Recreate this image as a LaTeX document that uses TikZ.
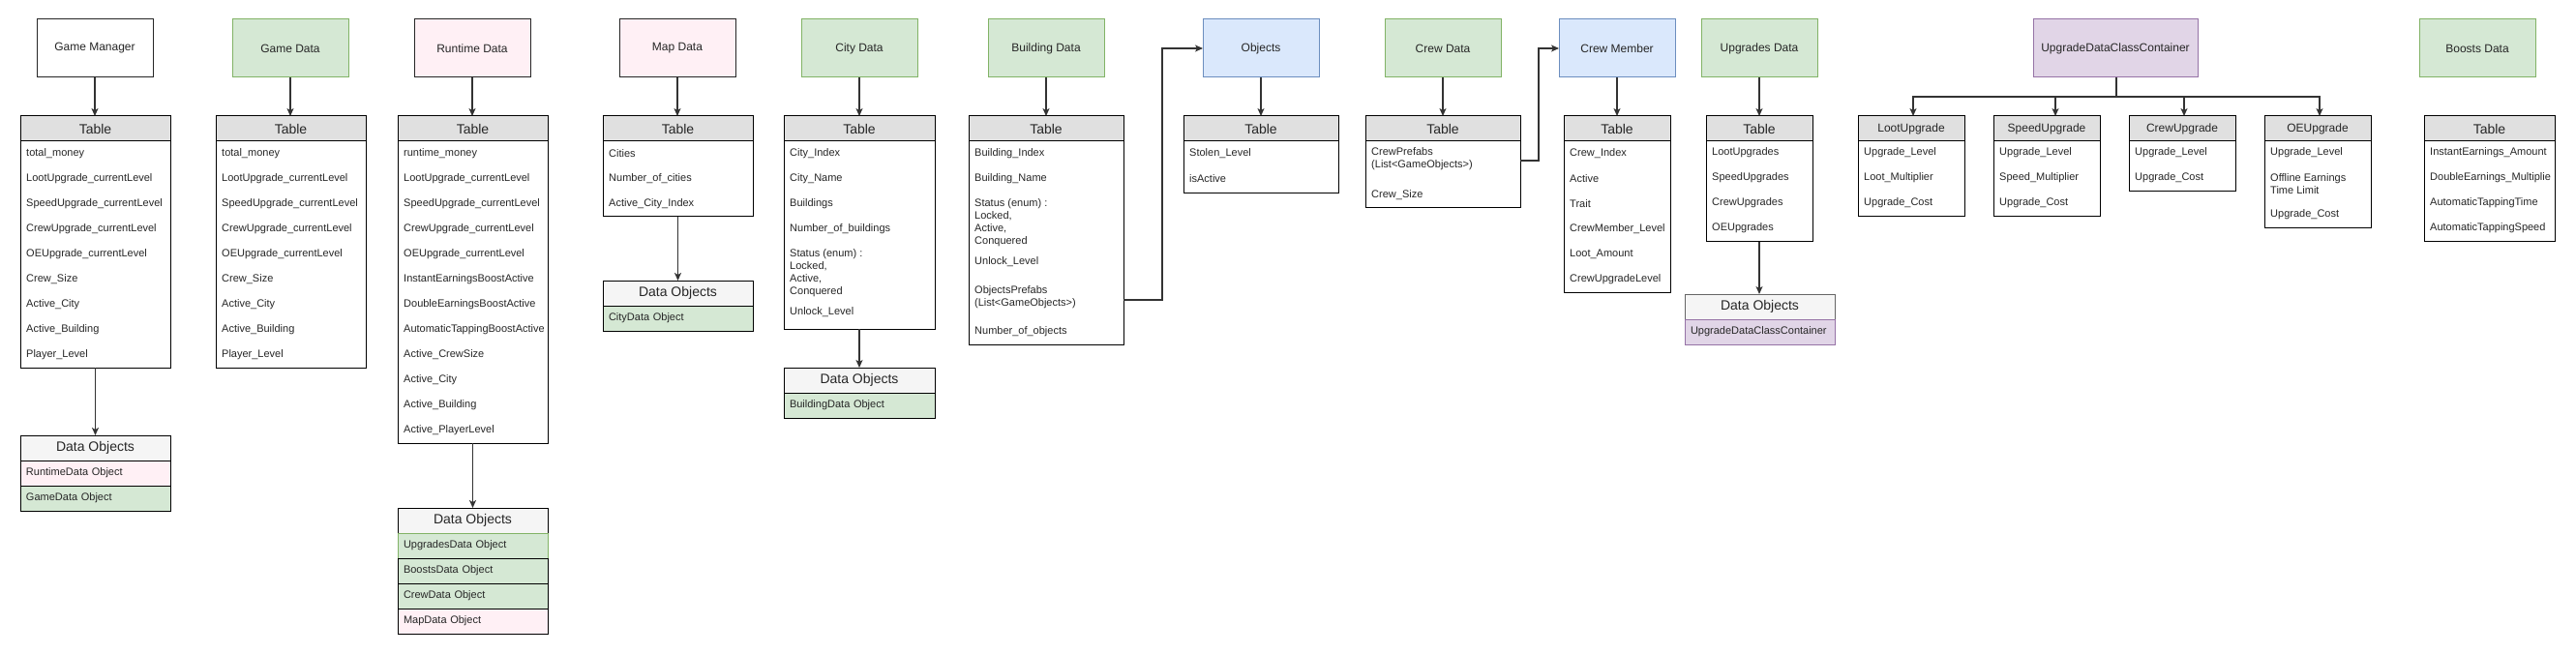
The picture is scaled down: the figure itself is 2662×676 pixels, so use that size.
\documentclass[tikz,border=0pt]{standalone}
\usepackage{fontspec}
\setmainfont{Liberation Sans}
\usetikzlibrary{arrows.meta,calc}
\definecolor{gfill}{HTML}{D5E8D4}
\definecolor{gline}{HTML}{82B366}
\definecolor{pfill}{HTML}{FFF0F5}
\definecolor{bfill}{HTML}{DAE8FC}
\definecolor{bline}{HTML}{6C8EBF}
\definecolor{vfill}{HTML}{E1D5E7}
\definecolor{vline}{HTML}{9673A6}
\definecolor{hfill}{HTML}{E0E0E0}
\definecolor{dfill}{HTML}{F5F5F5}
\definecolor{ink}{HTML}{262626}
\tikzset{
  box/.style={draw=ink, line width=1pt, minimum width=120pt, minimum height=60pt,
    inner sep=0pt, outer sep=0pt, font=\fontsize{12}{14}\selectfont, text=ink},
  gbox/.style={box, fill=gfill, draw=gline},
  pbox/.style={box, fill=pfill},
  bbox/.style={box, fill=bfill, draw=bline},
  tbody/.style={draw=black, line width=1pt, fill=white, inner sep=0pt, outer sep=0pt, anchor=north west},
  thead/.style={draw=black, line width=1pt, fill=hfill, inner sep=0pt, outer sep=0pt,
    minimum height=26pt, anchor=south west, text=ink},
  rowt/.style={anchor=west, inner sep=0pt, align=left, font=\fontsize{11}{13}\selectfont, text=ink},
  dohead/.style={draw=black, line width=1pt, fill=dfill, inner sep=0pt, outer sep=0pt,
    minimum height=26pt, anchor=north west, text=ink, font=\fontsize{14}{16}\selectfont},
  dorowst/.style={draw=black, line width=1pt, inner xsep=6pt, inner ysep=0pt, outer sep=0pt,
    minimum height=26pt, anchor=north west, align=left, text=ink, font=\fontsize{11}{13}\selectfont},
  conn/.style={draw=black!80, line width=1.1pt, -{Stealth[length=8pt,width=7pt,inset=2pt]}},
  plainline/.style={draw=black!80, line width=1.6pt},
}
% #1 name, #2 left x, #3 width, #4 bottom y, #5 title, #6 title size
\newcommand{\mktbl}[6]{%
  \node[tbody, minimum width=#3pt, minimum height={#4pt-146pt}] (#1) at (#2,146) {};
  \node[thead, minimum width=#3pt, font=\fontsize{#6}{#6}\selectfont] (#1h) at (#2,146) {#5};
}
% #1 name, #2 left, #3 top, #4 text width, #5 style, #6 text
\newcommand{\dorow}[6]{%
  \node[dorowst, #5, text width=#4pt] (#1) at (#2,#3) {#6};
}
\begin{document}
\begin{tikzpicture}[x=1pt,y=-1pt]
\useasboundingbox[fill=white] (0,0) rectangle (2662,676);

% ---------- top boxes ----------
\node[box] (gm) at (98,50) {Game Manager};
\node[gbox] (gd) at (300,50) {Game Data};
\node[pbox] (rd) at (488,50) {Runtime Data};
\node[pbox] (mp) at (700,50) {Map Data};
\node[gbox] (ct) at (888,50) {City Data};
\node[gbox] (bd) at (1081,50) {Building Data};
\node[bbox] (ob) at (1303,50) {Objects};
\node[gbox] (cd) at (1491,50) {Crew Data};
\node[bbox] (cm) at (1671,50) {Crew Member};
\node[gbox] (ud) at (1818,50) {Upgrades Data};
\node[box, fill=vfill, draw=vline, minimum width=170pt] (uc) at (2186,50) {UpgradeDataClassContainer};
\node[gbox] (bs) at (2560,50) {Boosts Data};

% ---------- tables ----------
\mktbl{gmt}{21}{155}{380}{Table}{14}
\mktbl{gdt}{223}{155}{380}{Table}{14}
\mktbl{rdt}{411}{155}{458}{Table}{14}
\mktbl{mpt}{623}{155}{224}{Table}{14}
\mktbl{ctt}{810}{156}{340}{Table}{14}
\mktbl{bdt}{1001}{160}{356}{Table}{14}
\mktbl{obt}{1223}{160}{200}{Table}{14}
\mktbl{cdt}{1411}{160}{215}{Table}{14}
\mktbl{cmt}{1616}{110}{302}{Table}{14}
\mktbl{udt}{1763}{110}{250}{Table}{14}
\mktbl{lut}{1920}{110}{224}{LootUpgrade}{12}
\mktbl{spt}{2060}{110}{224}{SpeedUpgrade}{12}
\mktbl{cut}{2200}{110}{198}{CrewUpgrade}{12}
\mktbl{oet}{2340}{110}{236}{OEUpgrade}{12}
\mktbl{bst}{2505}{135}{250}{Table}{14}

% ---------- rows ----------
\foreach \t [count=\i] in {total\_money,LootUpgrade\_currentLevel,SpeedUpgrade\_currentLevel,CrewUpgrade\_currentLevel,OEUpgrade\_currentLevel,Crew\_Size,Active\_City,Active\_Building,Player\_Level}
  \node[rowt] (gmr\i) at (27,{133+26*\i}) {\t};
\foreach \t [count=\i] in {total\_money,LootUpgrade\_currentLevel,SpeedUpgrade\_currentLevel,CrewUpgrade\_currentLevel,OEUpgrade\_currentLevel,Crew\_Size,Active\_City,Active\_Building,Player\_Level}
  \node[rowt] (gdr\i) at (229,{133+26*\i}) {\t};
\foreach \t [count=\i] in {runtime\_money,LootUpgrade\_currentLevel,SpeedUpgrade\_currentLevel,CrewUpgrade\_currentLevel,OEUpgrade\_currentLevel,InstantEarningsBoostActive,DoubleEarningsBoostActive,AutomaticTappingBoostActive,Active\_CrewSize,Active\_City,Active\_Building,Active\_PlayerLevel}
  \node[rowt] (rdr\i) at (417,{133+26*\i}) {\t};
\foreach \t [count=\i] in {Cities,Number\_of\_cities,Active\_City\_Index}
  \node[rowt] (mpr\i) at (629,{133+26*\i}) {\t};
\foreach \t [count=\i] in {City\_Index,City\_Name,Buildings,Number\_of\_buildings}
  \node[rowt] (ctr\i) at (816,{133+26*\i}) {\t};
\node[rowt] (ctr5) at (816,282.5) {Status (enum) :\\Locked,\\Active,\\Conquered};
\node[rowt] (ctr6) at (816,323) {Unlock\_Level};
\node[rowt] (bdr1) at (1007,159) {Building\_Index};
\node[rowt] (bdr2) at (1007,185) {Building\_Name};
\node[rowt] (bdr3) at (1007,230.5) {Status (enum) :\\Locked,\\Active,\\Conquered};
\node[rowt] (bdr4) at (1007,271) {Unlock\_Level};
\node[rowt] (bdr5) at (1007,307.5) {ObjectsPrefabs\\(List<GameObjects>)};
\node[rowt] (bdr6) at (1007,343) {Number\_of\_objects};
\node[rowt] (obr1) at (1229,159) {Stolen\_Level};
\node[rowt] (obr2) at (1229,185) {isActive};
\node[rowt] (cdr1) at (1417,164.5) {CrewPrefabs\\(List<GameObjects>)};
\node[rowt] (cdr2) at (1417,202) {Crew\_Size};
\foreach \t [count=\i] in {Crew\_Index,Active,Trait,CrewMember\_Level,Loot\_Amount,CrewUpgradeLevel}
  \node[rowt] (cmr\i) at (1622,{133+26*\i}) {\t};
\foreach \t [count=\i] in {LootUpgrades,SpeedUpgrades,CrewUpgrades,OEUpgrades}
  \node[rowt] (udr\i) at (1769,{132+26*\i}) {\t};
\foreach \t [count=\i] in {Upgrade\_Level,Loot\_Multiplier,Upgrade\_Cost}
  \node[rowt] (lur\i) at (1926,{132+26*\i}) {\t};
\foreach \t [count=\i] in {Upgrade\_Level,Speed\_Multiplier,Upgrade\_Cost}
  \node[rowt] (spr\i) at (2066,{132+26*\i}) {\t};
\foreach \t [count=\i] in {Upgrade\_Level,Upgrade\_Cost}
  \node[rowt] (cur\i) at (2206,{132+26*\i}) {\t};
\node[rowt] (oer1) at (2346,158) {Upgrade\_Level};
\node[rowt] (oer2) at (2346,190.5) {Offline Earnings\\Time Limit};
\node[rowt] (oer3) at (2346,222) {Upgrade\_Cost};
\foreach \t [count=\i] in {InstantEarnings\_Amount,DoubleEarnings\_Multiplie,AutomaticTappingTime,AutomaticTappingSpeed}
  \node[rowt] (bsr\i) at (2511,{132+26*\i}) {\t};

% ---------- data objects ----------
\node[dohead, minimum width=155pt] (gmdo) at (21,450) {Data Objects};
\dorow{gmdo1}{21}{476}{143}{fill=pfill}{RuntimeData Object}
\dorow{gmdo2}{21}{502}{143}{fill=gfill}{GameData Object}

\node[dohead, minimum width=155pt] (rddo) at (411,525) {Data Objects};
\dorow{rddo1}{411}{551}{143}{fill=gfill, draw=gline}{UpgradesData Object}
\dorow{rddo2}{411}{577}{143}{fill=gfill}{BoostsData Object}
\dorow{rddo3}{411}{603}{143}{fill=gfill}{CrewData Object}
\dorow{rddo4}{411}{629}{143}{fill=pfill}{MapData Object}

\node[dohead, minimum width=155pt] (mpdo) at (623,290) {Data Objects};
\dorow{mpdo1}{623}{316}{143}{fill=gfill}{CityData Object}

\node[dohead, minimum width=156pt] (ctdo) at (810,380) {Data Objects};
\dorow{ctdo1}{810}{406}{144}{fill=gfill}{BuildingData Object}

\node[dohead, minimum width=155pt, draw=black!60] (uddo) at (1741,304) {Data Objects};
\dorow{uddo1}{1741}{330}{143}{fill=vfill, draw=vline}{UpgradeDataClassContainer}

% ---------- connectors: box -> table ----------
\foreach \a/\b in {gm/gmth,gd/gdth,rd/rdth,mp/mpth,ct/ctth,bd/bdth,ob/obth,cd/cdth,cm/cmth,ud/udth}
  \draw[conn] (\a.south) -- (\a.south |- \b.north);

% ---------- connectors: table -> data objects ----------
\foreach \a/\b in {gmt/gmdo,rdt/rddo,mpt/mpdo,ctt/ctdo,udt/uddo}
  \draw[conn] (\a.south) -- (\a.south |- \b.north);

% ---------- elbow connectors ----------
\coordinate (bdp) at (1161,310);
\draw[conn] (bdp) -- ++(40,0) |- (ob.west);
\coordinate (cdp) at (1571,166);
\draw[conn] (cdp) -- ++(19,0) |- (cm.west);

% ---------- container bus ----------
\coordinate (bus) at (2187,100);
\coordinate (spin) at (2124,120);
\coordinate (luin) at (1977,120);
\coordinate (cuin) at (2257,120);
\coordinate (oein) at (2397,120);
\draw[conn] (bus) -| (luin);
\draw[conn] (bus) -| (spin);
\draw[conn] (bus) -| (cuin);
\draw[conn] (bus) -| (oein);
\draw[plainline] (uc.south -| bus) -- (bus);
\end{tikzpicture}
\end{document}
